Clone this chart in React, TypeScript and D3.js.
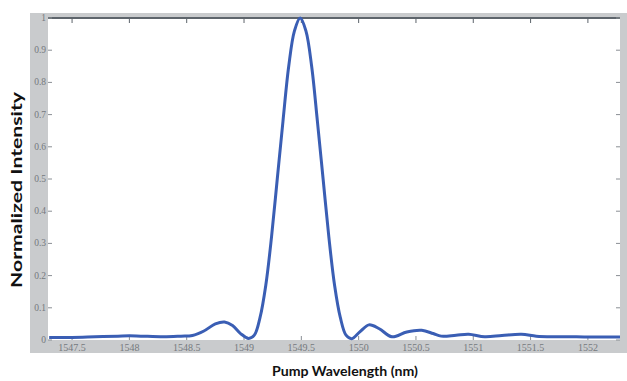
import * as d3 from 'd3';
import { useRef, useEffect } from 'react';

// pump wavelength (nm) and normalized intensity
const wavelengths = [
  1547.3, 1547.5, 1547.7, 1547.9, 1548.0, 1548.1, 1548.3, 1548.45, 1548.55, 1548.65,
  1548.75, 1548.83, 1548.9, 1548.97,
  1549.04, 1549.09, 1549.14, 1549.19, 1549.24, 1549.29, 1549.34, 1549.39, 1549.44, 1549.49,
  1549.54, 1549.59, 1549.64, 1549.69, 1549.74, 1549.79, 1549.84, 1549.89, 1549.94,
  1550.01, 1550.09, 1550.18, 1550.29, 1550.42, 1550.55, 1550.65, 1550.72, 1550.85, 1550.96,
  1551.1, 1551.25, 1551.42, 1551.55, 1551.7, 1551.9, 1552.1, 1552.28,
];
const intensity = [
  0.008, 0.008, 0.01, 0.012, 0.013, 0.012, 0.01, 0.012, 0.014, 0.028,
  0.05, 0.056, 0.045, 0.02,
  0.005, 0.015, 0.07, 0.17, 0.32, 0.5, 0.68, 0.85, 0.96, 1.0,
  0.96, 0.85, 0.68, 0.5, 0.32, 0.17, 0.07, 0.015, 0.004,
  0.025, 0.047, 0.035, 0.01, 0.025, 0.03, 0.02, 0.012, 0.015, 0.018,
  0.01, 0.014, 0.018, 0.012, 0.01, 0.01, 0.009, 0.009,
];
const xTicks = [1547.5, 1548, 1548.5, 1549, 1549.5, 1550, 1550.5, 1551, 1551.5, 1552];
const xTickLabels = ['1547.5', '1548', '1548.5', '1549', '1549.5', '1550', '1550.5', '1551', '1551.5', '1552'];
const yTicks = [0, 0.1, 0.2, 0.3, 0.4, 0.5, 0.6, 0.7, 0.8, 0.9, 1];
const yTickLabels = ['0', '0.1', '0.2', '0.3', '0.4', '0.5', '0.6', '0.7', '0.8', '0.9', '1'];

const W = 627;
const H = 381;

const App = () => {
  const ref = useRef<SVGSVGElement>(null);

  useEffect(() => {
    if (!ref.current) return;
    const svg = d3.select(ref.current);
    svg.selectAll('*').remove();

    const left = 48, right = 620, top = 18, bottom = 340;

    const x = d3.scaleLinear().domain([1547.29, 1552.28]).range([left, right]);
    const y = d3.scaleLinear().domain([0, 1]).range([bottom, top]);

    // grey frame around the axes, like the exported figure
    svg.append('rect')
      .attr('x', 30).attr('y', 13)
      .attr('width', W - 30).attr('height', 353 - 13)
      .attr('fill', '#c9cbcd');
    svg.append('rect')
      .attr('x', left).attr('y', top)
      .attr('width', right - left).attr('height', bottom - top)
      .attr('fill', '#fff');

    // top border line
    svg.append('line')
      .attr('x1', left).attr('x2', right)
      .attr('y1', top).attr('y2', top)
      .attr('stroke', '#5d646b').attr('stroke-width', 2);

    const ticks = svg.append('g').attr('stroke', '#8a8f94').attr('stroke-width', 1);
    xTicks.forEach(t => {
      ticks.append('line').attr('x1', x(t)).attr('x2', x(t)).attr('y1', top).attr('y2', top + 5)
        .attr('stroke', '#5d646b');
      ticks.append('line').attr('x1', x(t)).attr('x2', x(t)).attr('y1', bottom).attr('y2', bottom - 4);
    });
    yTicks.forEach(t => {
      ticks.append('line').attr('x1', left).attr('x2', left + 4).attr('y1', y(t)).attr('y2', y(t));
      ticks.append('line').attr('x1', right).attr('x2', right - 4).attr('y1', y(t)).attr('y2', y(t));
    });

    // tick labels
    svg.append('g')
      .selectAll('text')
      .data(xTicks)
      .join('text')
      .attr('x', d => x(d))
      .attr('y', 351)
      .attr('text-anchor', 'middle')
      .attr('font-family', 'Liberation Serif, serif')
      .attr('font-size', 10)
      .attr('fill', '#75797d')
      .text((d, i) => xTickLabels[i]);

    svg.append('g')
      .selectAll('text')
      .data(yTicks)
      .join('text')
      .attr('x', 46)
      .attr('y', d => y(d) + 3)
      .attr('text-anchor', 'end')
      .attr('font-family', 'Liberation Serif, serif')
      .attr('font-size', 9.5)
      .attr('fill', '#75797d')
      .text((d, i) => yTickLabels[i]);

    // the curve
    const line = d3.line<number>()
      .x((d, i) => x(wavelengths[i]))
      .y(d => y(d))
      .curve(d3.curveCatmullRom.alpha(0.5));

    svg.append('path')
      .datum(intensity)
      .attr('d', line)
      .attr('fill', 'none')
      .attr('stroke', '#3a5eb4')
      .attr('stroke-width', 3)
      .attr('stroke-linejoin', 'round');

    // axis titles
    svg.append('text')
      .attr('x', 345).attr('y', 376)
      .attr('text-anchor', 'middle')
      .attr('font-family', 'Lato, sans-serif')
      .attr('font-weight', 'bold')
      .attr('font-size', 14)
      .attr('textLength', 146)
      .attr('lengthAdjust', 'spacingAndGlyphs')
      .attr('fill', '#111')
      .text('Pump Wavelength (nm)');

    svg.append('text')
      .attr('transform', 'translate(22,190) rotate(-90)')
      .attr('text-anchor', 'middle')
      .attr('font-family', 'Lato, sans-serif')
      .attr('font-weight', 'bold')
      .attr('font-size', 15)
      .attr('textLength', 196)
      .attr('lengthAdjust', 'spacingAndGlyphs')
      .attr('fill', '#111')
      .text('Normalized Intensity');
  }, []);

  return (
    <div style={{ position: 'fixed', left: 0, top: 0 }}>
      <svg ref={ref} width={W} height={H} style={{ display: 'block', background: '#fff' }} />
    </div>
  );
};

export default App;
